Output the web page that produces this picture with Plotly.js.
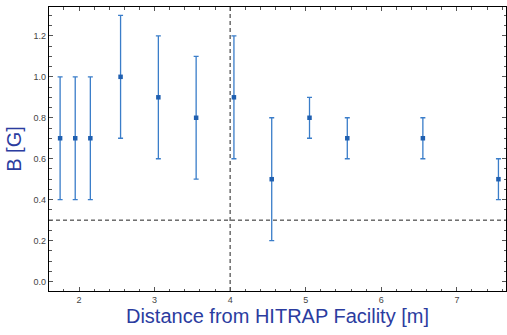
<!DOCTYPE html>
<html>
<head>
<meta charset="utf-8">
<script src="https://cdn.plot.ly/plotly-3.0.1.min.js"></script>
<style>html,body{margin:0;padding:0;background:#fff;}#chart{width:507px;height:335px;}</style>
</head>
<body>
<div id="chart"></div>
<script>
const distance = [1.75, 1.95, 2.15, 2.55, 3.05, 3.55, 4.05, 4.55, 5.05, 5.55, 6.55, 7.55];
const field    = [0.7, 0.7, 0.7, 1.0, 0.9, 0.8, 0.9, 0.5, 0.8, 0.7, 0.7, 0.5];
const fieldErr = [0.3, 0.3, 0.3, 0.3, 0.3, 0.3, 0.3, 0.3, 0.1, 0.1, 0.1, 0.1];
const facilityEdge = [4];
const threshold = [0.3];

const trace = {
  x: distance, y: field, type: 'scatter', mode: 'markers',
  marker: {symbol: 'square', size: 4.5, color: '#1f5fb0'},
  error_y: {type: 'data', array: fieldErr, visible: true, color: '#3a7dc9', thickness: 1.3, width: 2.5},
  hoverinfo: 'none'
};

const axisCommon = {
  showgrid: false, zeroline: false, showline: true, linecolor: '#000', linewidth: 1.3,
  mirror: 'allticks', ticks: 'inside', ticklen: 4, tickcolor: '#555', tickwidth: 1,
  tickfont: {family: 'Liberation Sans, Arial, sans-serif', size: 9, color: '#444'}
};

const layout = {
  width: 507, height: 335,
  margin: {l: 49, r: 1, t: 7, b: 44},
  paper_bgcolor: '#fff', plot_bgcolor: '#fff',
  showlegend: false,
  xaxis: Object.assign({}, axisCommon, {
    range: [1.603, 7.65], tickmode: 'linear', tick0: 0, dtick: 1,
    minor: {dtick: 0.2, ticks: 'inside', ticklen: 2.5, tickcolor: '#555', tickwidth: 1},
    title: {text: 'Distance from HITRAP Facility [m]', standoff: 4,
      font: {family: 'Liberation Sans, Arial, sans-serif', size: 20, color: '#2b3c9f'}}
  }),
  yaxis: Object.assign({}, axisCommon, {
    range: [-0.046, 1.341], tickmode: 'linear', tick0: 0, dtick: 0.2, tickformat: '.1f',
    minor: {dtick: 0.05, ticks: 'inside', ticklen: 2.5, tickcolor: '#555', tickwidth: 1},
    title: {text: 'B [G]', standoff: 6,
      font: {family: 'Liberation Sans, Arial, sans-serif', size: 20, color: '#2b3c9f'}}
  }),
  shapes: [
    {type: 'line', xref: 'x', yref: 'paper', x0: facilityEdge[0], x1: facilityEdge[0], y0: 0, y1: 1,
     line: {color: '#555', width: 1.3, dash: '4px,3px'}, layer: 'below'},
    {type: 'line', xref: 'paper', yref: 'y', x0: 0, x1: 1, y0: threshold[0], y1: threshold[0],
     line: {color: '#222', width: 1, dash: '4px,3px'}, layer: 'below'}
  ]
};

Plotly.newPlot('chart', [trace], layout, {staticPlot: true, displayModeBar: false});
</script>
</body>
</html>
